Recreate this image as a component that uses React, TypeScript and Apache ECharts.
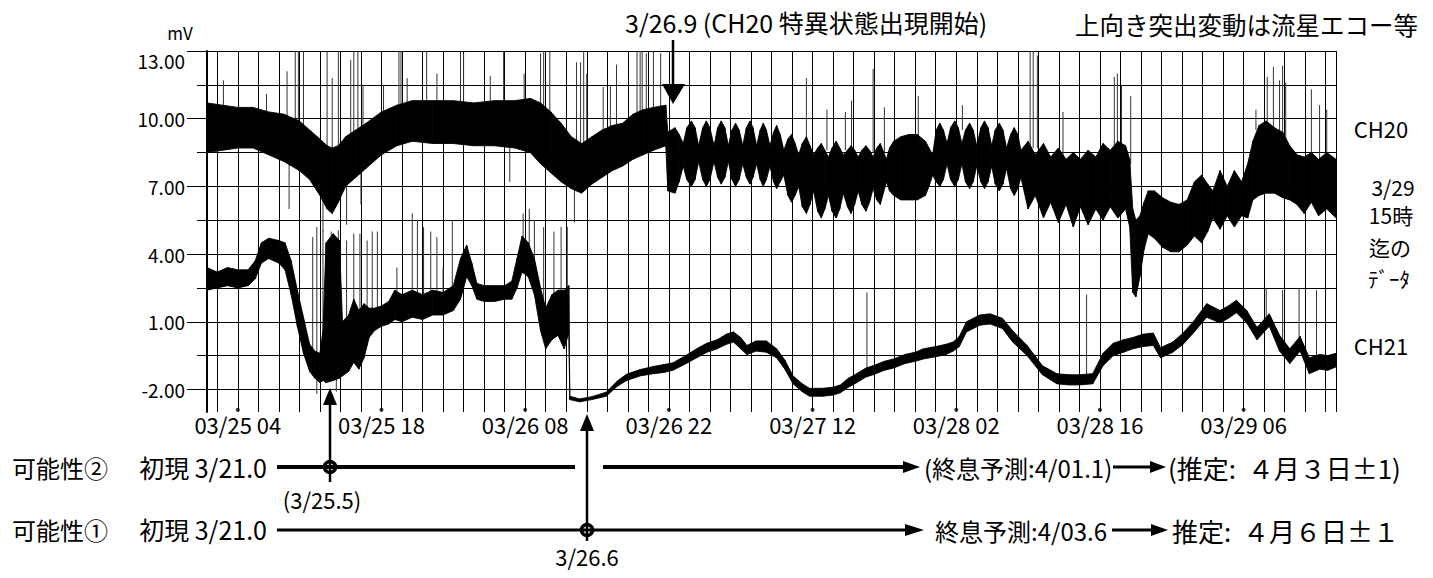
import React, { useEffect, useRef } from "react";
import * as echarts from "echarts";

// ---- axis definitions -------------------------------------------------
const X_TICK_LABELS = ["03/25 04", "03/25 18", "03/26 08", "03/26 22", "03/27 12", "03/28 02", "03/28 16", "03/29 06"];
const Y_TICK_LABELS = ["-2.00", "1.00", "4.00", "7.00", "10.00", "13.00"];
const X_MIN_HOUR = 1; // 03/25 01:00 (hours counted from 03/25 00:00)
const X_MAX_HOUR = 111; // 03/29 15:00
const X_GRID_STEP = 2;
const Y_MIN = -3;
const Y_MAX = 13;
const Y_GRID_STEP = 1.5;

// ---- CH20 envelope: [hour, low mV, high mV] ----------------------------
const CH20_ENVELOPE: number[][] = [
  [1, 8.5, 10.7], [2.5, 8.6, 10.6], [4, 8.7, 10.5], [5.5, 8.7, 10.5], [7, 8.4, 10.3],
  [8.5, 8.1, 10.2], [10, 7.7, 9.9], [11, 7.3, 9.5], [12, 6.6, 9.1], [12.7, 6.0, 8.8],
  [13.2, 5.8, 8.7], [13.8, 6.3, 8.8], [14.5, 7.0, 9.2], [15.5, 7.4, 9.5], [16.5, 7.8, 9.8],
  [18, 8.4, 10.3], [19.5, 8.8, 10.6], [21, 9.0, 10.8], [23, 8.9, 10.8], [25, 8.9, 10.8],
  [27, 8.8, 10.7], [29, 8.8, 10.8], [31, 8.7, 10.8], [32.5, 8.5, 10.9], [33.5, 8.0, 10.7],
  [34.5, 7.6, 10.3], [35.5, 7.2, 9.8], [36.5, 6.9, 9.2], [37.5, 6.7, 8.9], [38.5, 7.1, 9.2],
  [39.5, 7.4, 9.5], [40.5, 7.7, 9.7], [41.5, 7.9, 9.8], [42.5, 8.2, 10.2], [43.5, 8.4, 10.4],
  [44.5, 8.6, 10.5], [45.7, 8.8, 10.6], [45.9, 6.8, 9.4], [46.6, 6.7, 9.6], [47.0, 7.2, 9.3],
  [47.4, 7.9, 8.9], [47.75, 7.3, 9.6], [48.2, 7.0, 9.9], [48.55, 7.3, 9.6], [48.9, 8.1, 8.8],
  [49.3, 7.3, 9.6], [49.65, 7.0, 9.9], [50.0, 7.3, 9.6], [50.4, 8.1, 8.8], [50.75, 7.4, 9.6],
  [51.1, 7.1, 9.9], [51.45, 7.4, 9.6], [51.8, 8.1, 8.8], [52.15, 7.3, 9.5], [52.5, 7.0, 9.8],
  [52.85, 7.3, 9.5], [53.2, 8.0, 8.8], [53.55, 7.4, 9.6], [53.9, 7.1, 9.9], [54.2, 7.4, 9.6],
  [54.55, 8.0, 8.8], [54.9, 7.3, 9.5], [55.2, 7.0, 9.8], [55.5, 7.3, 9.5], [55.85, 7.9, 8.8],
  [56.2, 7.2, 9.4], [56.5, 6.9, 9.7], [56.85, 7.2, 9.3], [57.2, 7.5, 8.6], [57.6, 6.6, 9.1],
  [57.95, 6.3, 9.3], [58.3, 6.6, 8.9], [58.65, 7.0, 8.4], [59.0, 6.1, 8.9], [59.4, 5.8, 9.2],
  [59.75, 6.2, 8.8], [60.1, 6.8, 8.4], [60.5, 5.9, 8.7], [60.85, 5.6, 8.9], [61.2, 6.0, 8.6],
  [61.55, 6.6, 8.3], [61.9, 5.9, 8.7], [62.3, 5.6, 9.0], [62.65, 6.0, 8.7], [63.0, 6.7, 8.4],
  [63.4, 6.1, 8.6], [63.75, 5.8, 8.8], [64.1, 6.2, 8.6], [64.45, 6.8, 8.3], [64.8, 6.2, 8.6],
  [65.2, 5.9, 8.8], [65.55, 6.3, 8.6], [65.9, 6.9, 8.3], [66.25, 6.4, 8.7], [66.6, 6.2, 8.9],
  [67.2, 7.2, 8.2], [67.5, 6.8, 8.7], [67.9, 6.6, 9.0], [68.6, 6.4, 9.2], [69.4, 6.4, 9.3],
  [70.2, 6.4, 9.3], [71.0, 6.6, 9.0], [71.35, 7.0, 8.7], [71.7, 7.5, 8.4], [72.05, 7.2, 9.5],
  [72.4, 7.0, 9.8], [72.75, 7.3, 9.5], [73.1, 8.0, 8.9], [73.45, 7.3, 9.6], [73.85, 7.0, 9.9],
  [74.2, 7.3, 9.6], [74.55, 8.0, 8.9], [74.9, 7.2, 9.5], [75.3, 6.9, 9.8], [75.65, 7.2, 9.5],
  [76.0, 7.9, 8.8], [76.4, 7.2, 9.6], [76.75, 6.9, 9.9], [77.1, 7.2, 9.6], [77.45, 7.9, 8.8],
  [77.8, 7.1, 9.5], [78.2, 6.8, 9.8], [78.55, 7.1, 9.5], [78.9, 7.8, 8.7], [79.3, 6.9, 9.3],
  [79.65, 6.6, 9.6], [80.0, 6.9, 9.3], [80.3, 7.4, 8.6], [81.0, 6.0, 9.0], [81.7, 6.6, 8.4],
  [82.5, 5.6, 8.9], [83.2, 6.3, 8.3], [83.95, 5.4, 8.7], [84.7, 6.2, 8.2], [85.4, 5.2, 8.5],
  [86.1, 6.1, 8.2], [86.85, 5.3, 8.6], [87.6, 6.0, 8.3], [88.3, 5.5, 8.9], [89.0, 6.1, 8.6],
  [89.75, 5.6, 9.0], [90.5, 6.0, 8.8], [90.9, 5.2, 8.2], [91.2, 2.3, 6.0], [91.5, 2.1, 5.5],
  [91.9, 3.0, 5.7], [92.3, 4.2, 6.3], [92.7, 4.9, 6.8], [93.3, 4.7, 6.8], [94.1, 4.3, 6.5],
  [94.9, 4.1, 6.3], [95.7, 4.1, 6.2], [96.5, 4.4, 6.4], [97.2, 4.8, 7.2], [97.9, 4.5, 7.5],
  [98.5, 5.0, 7.1], [99.0, 5.6, 6.8], [99.7, 5.1, 7.7], [100.4, 5.7, 7.0], [101.1, 5.2, 7.7],
  [101.8, 5.7, 7.2], [102.4, 5.6, 8.0], [102.9, 6.4, 9.0], [103.5, 6.6, 9.7], [104.2, 6.7, 9.9],
  [105.0, 6.7, 9.6], [105.8, 6.5, 9.4], [106.5, 6.4, 8.8], [107.2, 6.2, 8.4], [107.9, 5.8, 8.3],
  [108.6, 6.3, 8.5], [109.3, 5.7, 8.2], [110.1, 6.0, 8.5], [111, 5.6, 8.2],
];

// ---- CH21 envelope: [hour, low mV, high mV] ----------------------------
const CH21_ENVELOPE: number[][] = [
  [1, 2.4, 3.4], [2, 2.5, 3.2], [3, 2.6, 3.4], [4, 2.5, 3.3], [5, 2.6, 3.3],
  [5.7, 2.9, 3.7], [6.3, 3.6, 4.5], [7, 3.8, 4.7], [8, 3.6, 4.6], [8.6, 3.3, 4.5],
  [9.2, 2.2, 3.7], [9.8, 0.8, 2.4], [10.4, -0.4, 1.2], [11, -1.2, 0.0], [11.5, -1.5, -0.3],
  [12, -1.7, -0.4], [12.3, -1.6, 0.6], [12.6, -1.7, 4.5], [13.3, -1.6, 4.9], [13.9, -1.5, 4.6],
  [14.2, -1.4, 1.0], [14.8, -1.2, 1.3], [15.3, -0.8, 2.0], [15.8, -1.1, 1.5], [16.3, -0.6, 1.8],
  [16.8, 0.3, 1.6], [17.3, 0.6, 1.6], [18, 0.8, 1.7], [18.7, 0.9, 1.9], [19.3, 1.1, 2.4],
  [20, 1.0, 2.2], [21, 1.2, 2.4], [22, 1.1, 2.2], [23, 1.3, 2.4], [24, 1.3, 2.3],
  [25, 1.5, 2.6], [25.7, 2.0, 3.8], [26.3, 3.0, 4.4], [26.8, 2.6, 3.6], [27.3, 2.0, 2.7],
  [28, 1.9, 2.6], [29, 1.9, 2.6], [30, 2.0, 2.6], [30.7, 2.0, 2.8], [31.2, 2.5, 3.8],
  [31.7, 3.2, 4.8], [32.3, 3.0, 4.5], [32.9, 2.2, 3.8], [33.5, 0.6, 2.5], [34, -0.2, 1.6],
  [34.6, 0.2, 2.2], [35.2, 0.4, 2.4], [35.8, -0.2, 2.4], [36.25, 0.5, 2.6], [36.35, -2.45, -2.3],
  [37.3, -2.55, -2.42], [38.5, -2.45, -2.32], [39.9, -2.3, -2.12], [41, -1.85, -1.62], [41.9, -1.6, -1.32],
  [43.2, -1.4, -1.12], [44.5, -1.3, -0.98], [45.5, -1.25, -0.9], [46.4, -1.15, -0.82], [47.7, -0.85, -0.48],
  [48.7, -0.6, -0.2], [49.7, -0.35, 0.05], [50.7, -0.2, 0.2], [51.6, 0.0, 0.45], [52.3, 0.1, 0.55],
  [53, -0.2, 0.3], [53.6, -0.45, -0.05], [54.5, -0.3, 0.15], [55.5, -0.35, 0.15], [56.5, -0.6, -0.2],
  [57.3, -1.1, -0.7], [58.1, -1.75, -1.4], [59, -2.1, -1.75], [59.7, -2.3, -1.95], [61, -2.3, -1.95],
  [62, -2.25, -1.9], [62.7, -2.15, -1.8], [63.5, -1.9, -1.5], [64.3, -1.7, -1.3], [65.2, -1.45, -1.05],
  [65.9, -1.35, -0.95], [67, -1.15, -0.75], [67.9, -1.05, -0.65], [69, -0.85, -0.45], [70, -0.75, -0.35],
  [70.8, -0.65, -0.2], [72, -0.55, -0.1], [73, -0.45, 0.0], [73.7, -0.3, 0.1], [74.3, -0.1, 0.35],
  [75, 0.55, 1.0], [76.3, 0.85, 1.3], [77.3, 0.9, 1.35], [78.5, 0.7, 1.15], [79.5, 0.1, 0.6],
  [80.9, -0.5, -0.05], [82.4, -1.35, -0.95], [83.8, -1.75, -1.3], [85, -1.8, -1.35], [86, -1.8, -1.35],
  [87.3, -1.75, -1.3], [88.3, -0.95, -0.4], [89.3, -0.5, 0.05], [90.3, -0.35, 0.2], [91.2, -0.2, 0.3],
  [92.2, -0.1, 0.45], [93.2, -0.05, 0.5], [93.9, -0.6, -0.15], [95.1, -0.35, 0.1], [96.1, 0.0, 0.5],
  [97.1, 0.5, 1.0], [98.4, 1.2, 1.8], [99.7, 0.95, 1.5], [100.5, 1.15, 1.7], [101.3, 1.4, 1.95],
  [102.3, 0.95, 1.5], [103.3, 0.2, 0.75], [104.5, 0.8, 1.35], [105.5, -0.3, 0.4], [106.5, -0.85, -0.2],
  [107.5, -0.3, 0.35], [108.4, -1.3, -0.6], [109.4, -1.1, -0.45], [110.2, -1.15, -0.5], [111, -1.0, -0.4],
];

// ---- isolated excursions (meteor echoes etc.): [hour, from mV, to mV] ---
const CH20_SPIKES: number[][] = [
  [2.6, 10.3, 11.7], [6.8, 10.2, 11.1], [8.8, 10.0, 12.1], [9.6, 9.8, 13], [9.9, 9.8, 13],
  [10.4, 9.6, 13], [12.7, 8.5, 13], [13.2, 8.5, 11.8], [13.8, 8.5, 13], [15.0, 9.2, 12.6],
  [15.3, 9.2, 13], [15.7, 9.3, 13], [16.2, 9.5, 11.5], [18.2, 10.0, 11.5], [19.7, 10.3, 13],
  [19.9, 10.3, 13], [20.5, 10.5, 11.8], [22.4, 10.5, 13], [23.4, 10.5, 12.0], [25.7, 10.5, 13],
  [26.0, 10.5, 12.9], [28.6, 10.4, 11.9], [29.9, 10.5, 13], [31.9, 10.5, 12.0], [33.5, 10.4, 12.9],
  [33.8, 10.4, 13], [34.4, 10.0, 13], [37.0, 8.7, 12.5], [37.4, 8.6, 12.5], [37.7, 8.7, 13],
  [38.0, 8.9, 12.0], [39.6, 9.2, 11.4], [40.3, 9.4, 11.5], [40.9, 9.5, 12.4], [42.9, 10.0, 13],
  [43.2, 10.1, 13], [43.4, 10.1, 13], [43.8, 10.2, 12.9], [44.5, 10.3, 13], [45.2, 10.3, 12.9],
  [59.4, 9.0, 11.8], [61.4, 8.6, 10.4], [63.2, 8.6, 10.3], [63.8, 8.6, 10.8], [65.9, 8.5, 12.2],
  [67.0, 8.5, 10.5], [70.3, 9.0, 11.0], [74.6, 9.5, 10.6], [81.2, 8.8, 13], [81.5, 8.7, 13],
  [81.9, 8.7, 12.8], [84.4, 8.2, 10.3], [89.4, 8.6, 11.85], [89.7, 8.8, 12.0], [90.1, 8.7, 11.5],
  [91.0, 8.0, 11.0], [103.2, 9.5, 10.4], [104.3, 9.7, 11.85], [104.9, 9.5, 12.3], [105.5, 9.4, 11.7],
  [105.8, 9.2, 12.35], [106.1, 9.0, 11.6], [108.6, 8.3, 11.3], [109.4, 8.1, 10.6], [110.1, 8.3, 10.4],
  [9.0, 8.2, 6.0], [12.3, 6.8, 5.0], [14.6, 7.2, 5.3], [16.0, 8.0, 6.2], [30.5, 8.9, 7.2],
  [36.8, 7.2, 5.4],
];

const CH21_SPIKES: number[][] = [
  [11.3, -0.5, 4.75], [11.7, -0.8, 5.2], [12.3, -0.5, 5.05], [13.1, 1.0, 5.0], [13.8, 1.0, 5.05],
  [14.6, 0.5, 4.6], [15.3, 1.0, 4.9], [15.9, 0.8, 4.9], [16.6, 1.0, 4.6], [17.1, 1.2, 5.0],
  [17.6, 1.2, 5.0], [19.5, 1.8, 3.4], [21.0, 1.8, 5.8], [21.5, 1.8, 5.5], [22.1, 1.8, 5.2],
  [22.8, 1.8, 5.0], [23.4, 1.9, 4.75], [24.0, 1.9, 3.4], [24.9, 2.0, 5.5], [31.8, 3.5, 5.8],
  [32.4, 3.5, 6.0], [32.9, 3.0, 5.5], [33.8, 1.0, 5.2], [34.8, 1.2, 5.0], [35.5, 1.2, 5.2],
  [36.1, 1.5, 5.2], [65.3, -1.2, 2.3], [86.7, -1.6, 2.2], [104.2, 1.0, 2.5], [105.8, 0.2, 2.4],
  [107.4, 0.3, 2.5], [109.1, -0.5, 2.4], [11.7, -1.5, -2.2], [13.6, -1.4, -2.1],
];

// ---- helpers -------------------------------------------------------------
const FONT = "'Noto Sans CJK JP', 'Noto Sans', sans-serif";

const labelToHour = (s: string) => {
  const [md, hh] = s.split(" ");
  const day = parseInt(md.split("/")[1], 10);
  return (day - 25) * 24 + parseInt(hh, 10);
};
const X_LABEL_HOURS = X_TICK_LABELS.map(labelToHour);
const Y_LABEL_VALUES = Y_TICK_LABELS.map((s) => parseFloat(s));

const X_GRID_HOURS: number[] = [];
for (let h = Math.ceil(X_MIN_HOUR / X_GRID_STEP) * X_GRID_STEP; h <= X_MAX_HOUR; h += X_GRID_STEP) X_GRID_HOURS.push(h);
X_GRID_HOURS.push(X_MAX_HOUR);

const Y_GRID_VALUES: number[] = [];
for (let v = Y_LABEL_VALUES[0]; v <= Y_MAX + 1e-9; v += Y_GRID_STEP) Y_GRID_VALUES.push(Math.round(v * 100) / 100);

const toSegments = (env: number[][]) => {
  const out: number[][] = [];
  for (let i = 0; i < env.length - 1; i++) {
    const a = env[i];
    const b = env[i + 1];
    out.push([a[0], a[1], a[2], b[0], b[1], b[2]]);
  }
  return out;
};

const renderBand = (_p: any, api: any) => {
  const p1 = api.coord([api.value(0), api.value(2)]);
  const p2 = api.coord([api.value(3), api.value(5)]);
  const p3 = api.coord([api.value(3), api.value(4)]);
  const p4 = api.coord([api.value(0), api.value(1)]);
  return {
    type: "polygon",
    shape: { points: [p1, p2, p3, p4] },
    style: { fill: "#000", stroke: "#000", lineWidth: 0.9 },
  };
};

const renderSpike = (_p: any, api: any) => {
  const a = api.coord([api.value(0), api.value(1)]);
  const b = api.coord([api.value(0), api.value(2)]);
  return {
    type: "line",
    shape: { x1: a[0], y1: a[1], x2: b[0], y2: b[1] },
    style: { stroke: "#333", lineWidth: 1 },
  };
};

const txt = (text: string, x: number, y: number, size: number, align = "left") => ({
  type: "text",
  x,
  y,
  style: {
    text,
    fill: "#000",
    fontSize: size,
    fontFamily: FONT,
    textAlign: align,
    textVerticalAlign: "middle",
    align,
    verticalAlign: "middle",
  },
});
const seg = (x1: number, y1: number, x2: number, y2: number, w: number) => ({
  type: "line",
  shape: { x1, y1, x2, y2 },
  style: { stroke: "#000", lineWidth: w },
});
const tri = (pts: number[][]) => ({ type: "polygon", shape: { points: pts }, style: { fill: "#000" } });
const ring = (cx: number, cy: number) => ({
  type: "circle",
  shape: { cx, cy, r: 5.5 },
  style: { fill: "none", stroke: "#000", lineWidth: 3.5 },
});

const option: any = {
  animation: false,
  backgroundColor: "#fff",
  grid: { left: 207, top: 51, width: 1129, height: 361, containLabel: false },
  xAxis: {
    type: "value",
    min: X_MIN_HOUR,
    max: X_MAX_HOUR,
    axisLine: { show: false },
    axisTick: { show: false, customValues: X_GRID_HOURS },
    splitLine: { show: true, lineStyle: { color: "#000", width: 1 } },
    axisLabel: {
      customValues: X_LABEL_HOURS,
      formatter: (v: number) => X_TICK_LABELS[X_LABEL_HOURS.indexOf(Math.round(v))] ?? "",
      margin: 1,
      color: "#000",
      fontSize: 22,
      fontFamily: FONT,
    },
  },
  yAxis: [
    {
      type: "value",
      min: Y_MIN,
      max: Y_MAX,
      position: "left",
      axisLine: { show: true, lineStyle: { color: "#000", width: 2 } },
      axisTick: { show: true, customValues: Y_LABEL_VALUES, length: 20, lineStyle: { color: "#000", width: 1 } },
      splitLine: { show: false },
      axisLabel: {
        customValues: Y_LABEL_VALUES,
        formatter: (v: number) => v.toFixed(2),
        margin: 22,
        color: "#000",
        fontSize: 19,
        fontFamily: FONT,
        verticalAlignMaxLabel: "top",
      },
    },
    {
      type: "value",
      min: Y_MIN,
      max: Y_MAX,
      position: "left",
      axisLine: { show: false },
      axisTick: { show: true, customValues: Y_GRID_VALUES, length: 10, lineStyle: { color: "#000", width: 1 } },
      axisLabel: { show: false },
      splitLine: { show: true, lineStyle: { color: "#000", width: 1 } },
    },
  ],
  series: [
    {
      type: "custom",
      name: "CH20 spikes",
      renderItem: renderSpike,
      data: CH20_SPIKES,
      encode: { x: 0, y: [1, 2] },
      silent: true,
      z: 2,
    },
    {
      type: "custom",
      name: "CH21 spikes",
      renderItem: renderSpike,
      data: CH21_SPIKES,
      encode: { x: 0, y: [1, 2] },
      silent: true,
      z: 2,
    },
    {
      type: "custom",
      name: "CH20",
      renderItem: renderBand,
      data: toSegments(CH20_ENVELOPE),
      encode: { x: [0, 3], y: [1, 2, 4, 5] },
      silent: true,
      z: 3,
    },
    {
      type: "custom",
      name: "CH21",
      renderItem: renderBand,
      data: toSegments(CH21_ENVELOPE),
      encode: { x: [0, 3], y: [1, 2, 4, 5] },
      silent: true,
      z: 3,
    },
    {
      type: "scatter",
      name: "tick marks",
      data: X_LABEL_HOURS.map((h) => [h, Y_MIN + 0.1]),
      symbol: "circle",
      symbolSize: 4,
      itemStyle: { color: "#000" },
      silent: true,
      z: 4,
    },
  ],
  graphic: [
    txt("mV", 180, 32, 17, "center"),
    txt("3/26.9 (CH20 特異状態出現開始)", 625, 22, 25),
    seg(673, 40, 673, 88, 2.5),
    tri([[662, 84], [685, 84], [673, 104]]),
    txt("上向き突出変動は流星エコー等", 1075, 24, 24.5),
    txt("CH20", 1381, 128, 22, "center"),
    txt("3/29", 1393, 187, 21, "center"),
    txt("15時", 1391, 215, 21, "center"),
    txt("迄の", 1390, 247, 21, "center"),
    txt("ﾃﾞｰﾀ", 1389, 278, 21, "center"),
    txt("CH21", 1381, 345, 22, "center"),
    // possibility 2
    txt("可能性②", 12, 467, 24),
    txt("初現 3/21.0", 267, 467, 25, "right"),
    seg(277, 467, 575, 467, 4),
    seg(603, 467, 904, 467, 4),
    tri([[903, 461], [920, 467], [903, 473]]),
    txt("(終息予測:4/01.1)", 924, 467, 24),
    seg(1113, 467, 1151, 467, 3),
    tri([[1150, 461], [1166, 467], [1150, 473]]),
    txt("(推定:  ４月３日±1)", 1168, 467, 26),
    seg(330, 482, 330, 402, 2.5),
    tri([[323, 405], [337, 405], [330, 388]]),
    ring(330, 467),
    txt("(3/25.5)", 322, 499, 22, "center"),
    // possibility 1
    txt("可能性①", 12, 529, 24),
    txt("初現 3/21.0", 267, 529, 25, "right"),
    seg(277, 530, 906, 530, 3),
    tri([[905, 524], [924, 530], [905, 536]]),
    txt("終息予測:4/03.6", 935, 530, 24),
    seg(1112, 530, 1152, 530, 3),
    tri([[1151, 524], [1168, 530], [1151, 536]]),
    txt("推定:  ４月６日±１", 1172, 530, 26),
    seg(587, 541, 587, 428, 2.5),
    tri([[580, 431], [594, 431], [587, 414]]),
    ring(587, 530),
    txt("3/26.6", 587, 556, 22, "center"),
  ],
};

export default function App() {
  const ref = useRef<HTMLDivElement>(null);
  useEffect(() => {
    if (!ref.current) return;
    const chart = echarts.init(ref.current, null, { renderer: "svg" });
    chart.setOption(option);
    return () => chart.dispose();
  }, []);
  return (
    <div
      ref={ref}
      style={{ position: "absolute", left: 0, top: 0, width: 1433, height: 578, background: "#fff" }}
    />
  );
}
